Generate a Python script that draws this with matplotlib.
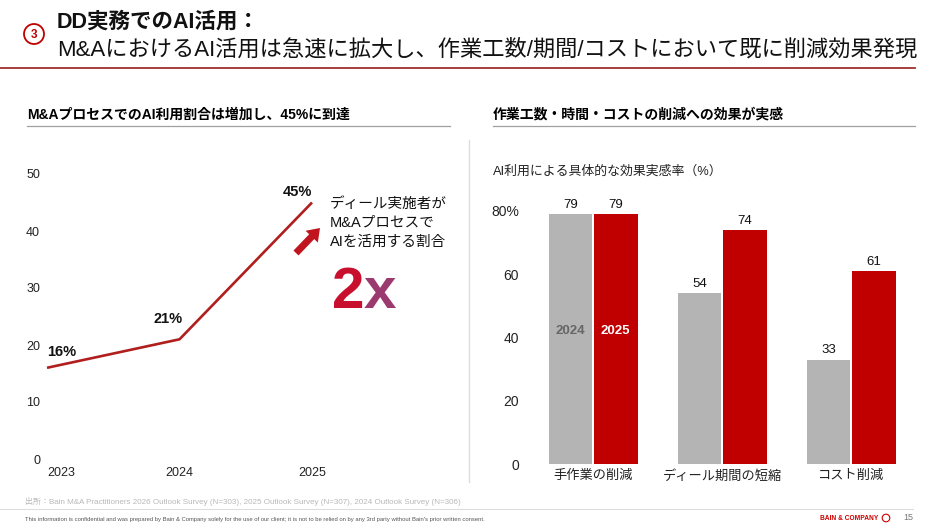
import matplotlib
matplotlib.use('Agg')
import matplotlib.pyplot as plt
from matplotlib.patches import Circle, FancyArrow

plt.rcParams['font.family'] = ['Liberation Sans', 'Noto Sans CJK JP', 'DejaVu Sans']

# data
years = ['2023', '2024', '2025']
ai_share = [16, 21, 45]
share_labels = ['16%', '21%', '45%']

effects = ['手作業の削減', 'ディール期間の短縮', 'コスト削減']
effect_2024 = [79, 54, 33]
effect_2025 = [79, 74, 61]

RED = '#c00000'
LINE_RED = '#b01e1e'
GRAY_BAR = '#b4b4b4'

W, H = 940, 529
fig = plt.figure(figsize=(W / 100, H / 100), dpi=100)

# overlay axes in pixel coords for text / decoration
ov = fig.add_axes([0, 0, 1, 1])
ov.set_xlim(0, W)
ov.set_ylim(H, 0)
ov.axis('off')
ov.patch.set_alpha(0)


def px_axes(l, t, r, b):
    return fig.add_axes([l / W, 1 - b / H, (r - l) / W, (b - t) / H])


# ---- title ----
ov.add_patch(Circle((34, 34), 10, fill=False, ec=RED, lw=1.3))
ov.text(34, 34.5, '3', color=RED, fontsize=8.5, fontweight='bold', ha='center', va='center')
ov.text(57, 22, 'DD実務でのAI活用：', fontsize=15.5, fontweight='bold', va='center', color='#111111')
ov.text(57, 50, 'M&AにおけるAI活用は急速に拡大し、作業工数/期間/コストにおいて既に削減効果発現',
        fontsize=16, va='center', color='#111111')
ov.plot([0, 915], [68, 68], color='#a03030', lw=1.3)

# ---- section headers ----
ov.text(27, 115, 'M&AプロセスでのAI利用割合は増加し、45%に到達', fontsize=10, fontweight='bold', va='center')
ov.plot([27, 450], [126, 126], color='#a0a0a0', lw=0.9)
ov.text(493, 115, '作業工数・時間・コストの削減への効果が実感', fontsize=10, fontweight='bold', va='center')
ov.plot([493, 915], [126, 126], color='#a0a0a0', lw=0.9)
ov.plot([469, 469], [140, 482], color='#dddddd', lw=1)

# ---- left: line chart ----
ax1 = px_axes(47, 174, 312, 459)
x = list(range(len(years)))
ax1.plot(x, ai_share, color=LINE_RED, lw=1.9, clip_on=False, solid_capstyle='butt')
ax1.set_xlim(0, 2)
ax1.set_ylim(0, 50)
ax1.set_yticks(range(0, 51, 10))
ax1.set_xticks(x)
ax1.set_xticklabels(years)
for s in ax1.spines.values():
    s.set_visible(False)
ax1.tick_params(axis='y', length=0, pad=5, labelsize=9, labelcolor='#222222')
ax1.tick_params(axis='x', length=0, pad=6, labelsize=9, labelcolor='#222222')
ax1.get_xticklabels()[0].set_ha('left')
ax1.patch.set_alpha(0)
offsets = [(15, -16), (-11, -20), (-15, -11)]
for xi, v, lab, (dx, dy) in zip(x, ai_share, share_labels, offsets):
    ax1.annotate(lab, (xi, v), xytext=(dx * 0.72, -dy * 0.72), textcoords='offset points',
                 ha='center', va='center', fontsize=10.5, fontweight='bold', color='#111111',
                 annotation_clip=False)

# annotation on the right of the line chart
note_lines = ['ディール実施者が', 'M&Aプロセスで', 'AIを活用する割合']
for i, s in enumerate(note_lines):
    ov.text(330, 204 + i * 19, s, fontsize=10.5, va='center', color='#111111')
ov.add_patch(FancyArrow(296, 253, 24, -25, width=7, head_width=17, head_length=12,
                        length_includes_head=True, color='#c0141e', lw=0))
ov.text(332, 308, '2', fontsize=42, fontweight='bold', color='#c8102e', va='baseline')
ov.text(364, 308, 'x', fontsize=42, fontweight='bold', color='#9b3a6e', va='baseline')

# ---- right: bar chart ----
ov.text(493, 172, 'AI利用による具体的な効果実感率（%）', fontsize=9.3, va='center', color='#222222')
ax2 = px_axes(526, 211, 922, 464)
bw = 0.34
xb = list(range(len(effects)))
b1 = ax2.bar([i - 0.175 for i in xb], effect_2024, bw, color=GRAY_BAR, lw=0)
b2 = ax2.bar([i + 0.175 for i in xb], effect_2025, bw, color=RED, lw=0)
ax2.set_xlim(-0.52, 2.55)
ax2.set_ylim(0, 80)
ax2.set_yticks([0, 20, 40, 60, 80])
ax2.set_yticklabels(['0', '20', '40', '60', '80%'])
ax2.set_xticks(xb)
ax2.set_xticklabels(effects)
for s in ax2.spines.values():
    s.set_visible(False)
ax2.tick_params(axis='y', length=0, pad=5, labelsize=10, labelcolor='#222222')
ax2.tick_params(axis='x', length=0, pad=4, labelsize=9.5, labelcolor='#222222')
ax2.patch.set_alpha(0)
for bars in (b1, b2):
    for rect in bars:
        h = rect.get_height()
        ax2.annotate(f'{h}', (rect.get_x() + rect.get_width() / 2, h), xytext=(0, 2.5),
                     textcoords='offset points', ha='center', va='bottom', fontsize=9.5,
                     color='#111111')
ax2.text(b1[0].get_x() + bw / 2, 42, '2024', ha='center', va='center', fontsize=9.5,
         fontweight='bold', color='#666666')
ax2.text(b2[0].get_x() + bw / 2, 42, '2025', ha='center', va='center', fontsize=9.5,
         fontweight='bold', color='white')

# ---- footer ----
ov.text(25, 501, '出所：Bain M&A Practitioners 2026 Outlook Survey (N=303), 2025 Outlook Survey (N=307), '
        '2024 Outlook Survey (N=306)', fontsize=5.8, color='#b8b8b8', va='center')
ov.plot([0, 913], [509, 509], color='#dddddd', lw=0.8)
ov.text(25, 519, "This information is confidential and was prepared by Bain & Company solely for the use of our "
        "client; it is not to be relied on by any 3rd party without Bain's prior written consent.",
        fontsize=4.2, color='#555555', va='center')
ov.text(878, 519, 'BAIN & COMPANY', fontsize=4.8, fontweight='bold', color='#cc0000', ha='right', va='center')
ov.add_patch(Circle((886, 518), 3.8, fill=False, ec='#cc0000', lw=0.8))
ov.text(908, 518, '15', fontsize=6.5, color='#777777', ha='center', va='center')

fig.savefig('out.png', dpi=100)
